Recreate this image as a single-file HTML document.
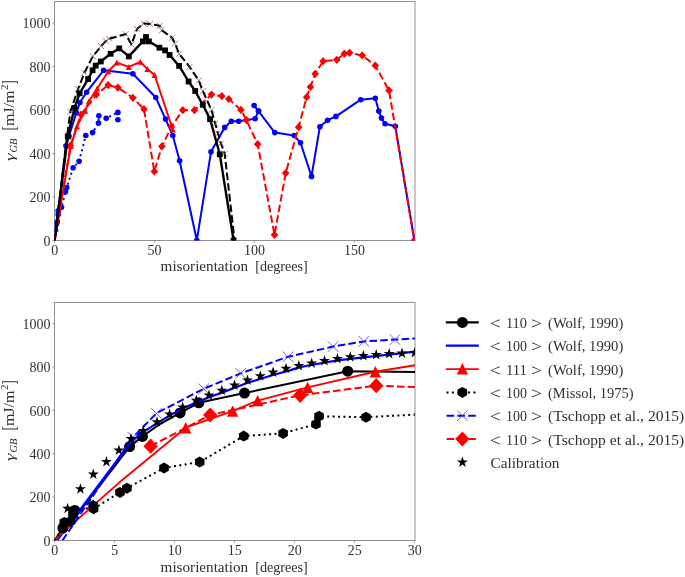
<!DOCTYPE html>
<html><head><meta charset="utf-8"><title>Grain boundary energy vs misorientation</title>
<style>
html,body{margin:0;padding:0;background:#fff;}
body{width:685px;height:577px;overflow:hidden;font-family:"Liberation Serif",serif;}
svg{display:block;}
svg text{font-family:"Liberation Serif",serif;}
svg{will-change:transform;}
</style></head><body>
<svg width="685" height="577" viewBox="0 0 685 577" font-family="Liberation Serif, serif" fill="#303030"><defs><clipPath id="ct"><rect x="54.5" y="1.5" width="360.5" height="239.0"/></clipPath><clipPath id="cb"><rect x="54.5" y="302.5" width="360.5" height="238.0"/></clipPath></defs><rect width="685" height="577" fill="#fff"/><rect x="54.5" y="1.5" width="360.5" height="239.0" fill="none" stroke="#909090" stroke-width="1"/><line x1="54.5" y1="240.5" x2="54.5" y2="242.7" stroke="#555" stroke-width="0.6"/><text x="51.20" y="255.0" font-size="14.2" textLength="7.00" lengthAdjust="spacingAndGlyphs">0</text><line x1="154.4" y1="240.5" x2="154.4" y2="242.7" stroke="#555" stroke-width="0.6"/><text x="147.60" y="255.0" font-size="14.2" textLength="14.00" lengthAdjust="spacingAndGlyphs">50</text><line x1="254.3" y1="240.5" x2="254.3" y2="242.7" stroke="#555" stroke-width="0.6"/><text x="244.00" y="255.0" font-size="14.2" textLength="21.00" lengthAdjust="spacingAndGlyphs">100</text><line x1="354.2" y1="240.5" x2="354.2" y2="242.7" stroke="#555" stroke-width="0.6"/><text x="343.90" y="255.0" font-size="14.2" textLength="21.00" lengthAdjust="spacingAndGlyphs">150</text><line x1="52.3" y1="240.50" x2="54.5" y2="240.50" stroke="#555" stroke-width="0.6"/><text x="43.40" y="245.70" font-size="14.2" textLength="7.00" lengthAdjust="spacingAndGlyphs">0</text><line x1="52.3" y1="197.00" x2="54.5" y2="197.00" stroke="#555" stroke-width="0.6"/><text x="29.40" y="202.20" font-size="14.2" textLength="21.00" lengthAdjust="spacingAndGlyphs">200</text><line x1="52.3" y1="153.50" x2="54.5" y2="153.50" stroke="#555" stroke-width="0.6"/><text x="29.40" y="158.70" font-size="14.2" textLength="21.00" lengthAdjust="spacingAndGlyphs">400</text><line x1="52.3" y1="110.00" x2="54.5" y2="110.00" stroke="#555" stroke-width="0.6"/><text x="29.40" y="115.20" font-size="14.2" textLength="21.00" lengthAdjust="spacingAndGlyphs">600</text><line x1="52.3" y1="66.50" x2="54.5" y2="66.50" stroke="#555" stroke-width="0.6"/><text x="29.40" y="71.70" font-size="14.2" textLength="21.00" lengthAdjust="spacingAndGlyphs">800</text><line x1="52.3" y1="23.00" x2="54.5" y2="23.00" stroke="#555" stroke-width="0.6"/><text x="22.40" y="28.20" font-size="14.2" textLength="28.00" lengthAdjust="spacingAndGlyphs">1000</text><g transform="translate(14.2,161.0) rotate(-90)" font-size="14.4"><text x="0" y="0" font-style="italic" font-size="13.4" textLength="7.6" lengthAdjust="spacingAndGlyphs">γ</text><text x="8.4" y="2.6" font-style="italic" font-size="10.2" textLength="14.0" lengthAdjust="spacingAndGlyphs">GB</text><text x="30.4" y="0.9" font-size="19" textLength="4.6" lengthAdjust="spacingAndGlyphs">[</text><text x="34.9" y="0" textLength="35.6" lengthAdjust="spacingAndGlyphs">mJ/m</text><text x="70.9" y="-5.8" font-size="10.2" textLength="5.4" lengthAdjust="spacingAndGlyphs">2</text><text x="76.2" y="0.9" font-size="19" textLength="4.6" lengthAdjust="spacingAndGlyphs">]</text></g><text x="160.6" y="271.4" font-size="14.4" textLength="87.6" lengthAdjust="spacingAndGlyphs">misorientation</text><text x="255.2" y="271.4" font-size="14.4" textLength="52.6" lengthAdjust="spacingAndGlyphs">[degrees]</text><g clip-path="url(#ct)"><polyline points="54.6,240.6 55.6,230.0 56.6,224.0 57.3,221.8 58.2,214.5 58.2,210.9 61.5,207.3 65.5,191.8 66.7,187.6 73.1,167.8 79.1,161.3 85.8,135.5 92.6,132.6 98.5,123.1 98.9,115.8 106.2,118.2 117.9,112.4" fill="none" stroke="#0000ff" stroke-width="2.0" stroke-linejoin="round" stroke-dasharray="2 3.3"/><circle cx="55.6" cy="230.0" r="2.8" fill="#0000ff"/><circle cx="56.6" cy="224.0" r="2.8" fill="#0000ff"/><circle cx="57.3" cy="221.8" r="2.8" fill="#0000ff"/><circle cx="58.2" cy="214.5" r="2.8" fill="#0000ff"/><circle cx="58.2" cy="210.9" r="2.8" fill="#0000ff"/><circle cx="61.5" cy="207.3" r="2.8" fill="#0000ff"/><circle cx="65.5" cy="191.8" r="2.8" fill="#0000ff"/><circle cx="66.7" cy="187.6" r="2.8" fill="#0000ff"/><circle cx="73.1" cy="167.8" r="2.8" fill="#0000ff"/><circle cx="79.1" cy="161.3" r="2.8" fill="#0000ff"/><circle cx="85.8" cy="135.5" r="2.8" fill="#0000ff"/><circle cx="92.6" cy="132.6" r="2.8" fill="#0000ff"/><circle cx="98.5" cy="123.1" r="2.8" fill="#0000ff"/><circle cx="98.9" cy="115.8" r="2.8" fill="#0000ff"/><circle cx="106.2" cy="118.2" r="2.8" fill="#0000ff"/><circle cx="117.9" cy="112.4" r="2.8" fill="#0000ff"/><circle cx="117.9" cy="119.7" r="2.8" fill="#0000ff"/><polyline points="54.6,240.6 66.0,145.7 69.0,136.2 76.3,112.8 79.9,102.5 86.6,92.2 103.6,70.3 132.9,73.8 155.8,97.5 165.5,119.1 172.8,135.5 179.6,160.8 196.8,240.3 211.0,151.8 224.7,127.4 231.3,121.3 238.7,121.3 255.1,118.7 258.5,111.1 254.1,105.5 258.5,111.1 274.8,132.6 294.2,135.5 300.5,142.8 311.5,176.4 319.9,126.7 327.6,120.2 335.9,116.4 360.8,99.7 375.3,98.3 378.8,111.1 381.5,118.1 385.0,123.7 395.3,126.2 414.4,240.6" fill="none" stroke="#0000ff" stroke-width="2.0" stroke-linejoin="round"/><circle cx="66.0" cy="145.7" r="2.8" fill="#0000ff"/><circle cx="69.0" cy="136.2" r="2.8" fill="#0000ff"/><circle cx="76.3" cy="112.8" r="2.8" fill="#0000ff"/><circle cx="79.9" cy="102.5" r="2.8" fill="#0000ff"/><circle cx="86.6" cy="92.2" r="2.8" fill="#0000ff"/><circle cx="103.6" cy="70.3" r="2.8" fill="#0000ff"/><circle cx="132.9" cy="73.8" r="2.8" fill="#0000ff"/><circle cx="155.8" cy="97.5" r="2.8" fill="#0000ff"/><circle cx="165.5" cy="119.1" r="2.8" fill="#0000ff"/><circle cx="172.8" cy="135.5" r="2.8" fill="#0000ff"/><circle cx="179.6" cy="160.8" r="2.8" fill="#0000ff"/><circle cx="196.8" cy="240.3" r="2.8" fill="#0000ff"/><circle cx="211.0" cy="151.8" r="2.8" fill="#0000ff"/><circle cx="224.7" cy="127.4" r="2.8" fill="#0000ff"/><circle cx="231.3" cy="121.3" r="2.8" fill="#0000ff"/><circle cx="238.7" cy="121.3" r="2.8" fill="#0000ff"/><circle cx="255.1" cy="118.7" r="2.8" fill="#0000ff"/><circle cx="258.5" cy="111.1" r="2.8" fill="#0000ff"/><circle cx="254.1" cy="105.5" r="2.8" fill="#0000ff"/><circle cx="258.5" cy="111.1" r="2.8" fill="#0000ff"/><circle cx="274.8" cy="132.6" r="2.8" fill="#0000ff"/><circle cx="294.2" cy="135.5" r="2.8" fill="#0000ff"/><circle cx="300.5" cy="142.8" r="2.8" fill="#0000ff"/><circle cx="311.5" cy="176.4" r="2.8" fill="#0000ff"/><circle cx="319.9" cy="126.7" r="2.8" fill="#0000ff"/><circle cx="327.6" cy="120.2" r="2.8" fill="#0000ff"/><circle cx="335.9" cy="116.4" r="2.8" fill="#0000ff"/><circle cx="360.8" cy="99.7" r="2.8" fill="#0000ff"/><circle cx="375.3" cy="98.3" r="2.8" fill="#0000ff"/><circle cx="378.8" cy="111.1" r="2.8" fill="#0000ff"/><circle cx="381.5" cy="118.1" r="2.8" fill="#0000ff"/><circle cx="385.0" cy="123.7" r="2.8" fill="#0000ff"/><circle cx="395.3" cy="126.2" r="2.8" fill="#0000ff"/><circle cx="414.4" cy="240.6" r="2.8" fill="#0000ff"/><polyline points="54.6,240.6 70.8,146.1 76.9,126.4 85.2,110.8 88.9,101.2 97.2,88.5 108.4,71.3 116.9,62.6 128.8,66.9 140.3,61.8 147.4,69.1 154.6,75.0 172.8,129.5" fill="none" stroke="#ff0000" stroke-width="2.0" stroke-linejoin="round"/><path d="M70.8,143.1L73.8,149.1L67.8,149.1Z" fill="#ff0000"/><path d="M76.9,123.4L79.9,129.4L73.9,129.4Z" fill="#ff0000"/><path d="M85.2,107.8L88.2,113.8L82.2,113.8Z" fill="#ff0000"/><path d="M88.9,98.2L91.9,104.2L85.9,104.2Z" fill="#ff0000"/><path d="M97.2,85.5L100.2,91.5L94.2,91.5Z" fill="#ff0000"/><path d="M108.4,68.3L111.4,74.3L105.4,74.3Z" fill="#ff0000"/><path d="M116.9,59.6L119.9,65.6L113.9,65.6Z" fill="#ff0000"/><path d="M128.8,63.9L131.8,69.9L125.8,69.9Z" fill="#ff0000"/><path d="M140.3,58.8L143.3,64.8L137.3,64.8Z" fill="#ff0000"/><path d="M147.4,66.1L150.4,72.1L144.4,72.1Z" fill="#ff0000"/><path d="M154.6,72.0L157.6,78.0L151.6,78.0Z" fill="#ff0000"/><path d="M172.8,126.5L175.8,132.5L169.8,132.5Z" fill="#ff0000"/><polyline points="54.6,240.6 70.4,145.7 80.9,114.7 96.4,94.6 108.1,85.1 117.9,87.6 132.9,97.8 144.0,109.2 154.3,171.4 161.9,146.4 171.4,126.7 182.8,110.2 194.5,110.2 211.5,94.6 221.8,96.1 228.8,99.0 240.9,109.9 246.4,120.1 257.7,144.2 274.5,234.8 285.7,173.1 298.6,127.2 306.6,97.2 310.4,87.0 315.2,73.8 323.1,61.2 336.8,59.8 344.3,53.7 349.6,52.8 362.2,55.4 375.3,65.6 389.0,90.4 414.4,240.6" fill="none" stroke="#ff0000" stroke-width="2.0" stroke-linejoin="round" stroke-dasharray="7.5 3.2"/><path d="M70.4,141.6L74.2,145.7L70.4,149.8L66.6,145.7Z" fill="#ff0000"/><path d="M80.9,110.6L84.7,114.7L80.9,118.8L77.1,114.7Z" fill="#ff0000"/><path d="M96.4,90.5L100.2,94.6L96.4,98.7L92.6,94.6Z" fill="#ff0000"/><path d="M108.1,81.0L111.9,85.1L108.1,89.2L104.3,85.1Z" fill="#ff0000"/><path d="M117.9,83.5L121.7,87.6L117.9,91.7L114.1,87.6Z" fill="#ff0000"/><path d="M132.9,93.7L136.7,97.8L132.9,101.9L129.1,97.8Z" fill="#ff0000"/><path d="M144.0,105.1L147.8,109.2L144.0,113.3L140.2,109.2Z" fill="#ff0000"/><path d="M154.3,167.3L158.1,171.4L154.3,175.5L150.5,171.4Z" fill="#ff0000"/><path d="M161.9,142.3L165.7,146.4L161.9,150.5L158.1,146.4Z" fill="#ff0000"/><path d="M171.4,122.6L175.2,126.7L171.4,130.8L167.6,126.7Z" fill="#ff0000"/><path d="M182.8,106.1L186.6,110.2L182.8,114.3L179.0,110.2Z" fill="#ff0000"/><path d="M194.5,106.1L198.3,110.2L194.5,114.3L190.7,110.2Z" fill="#ff0000"/><path d="M211.5,90.5L215.3,94.6L211.5,98.7L207.7,94.6Z" fill="#ff0000"/><path d="M221.8,92.0L225.6,96.1L221.8,100.2L218.0,96.1Z" fill="#ff0000"/><path d="M228.8,94.9L232.6,99.0L228.8,103.1L225.0,99.0Z" fill="#ff0000"/><path d="M240.9,105.8L244.7,109.9L240.9,114.0L237.1,109.9Z" fill="#ff0000"/><path d="M246.4,116.0L250.2,120.1L246.4,124.2L242.6,120.1Z" fill="#ff0000"/><path d="M257.7,140.1L261.5,144.2L257.7,148.3L253.9,144.2Z" fill="#ff0000"/><path d="M274.5,230.7L278.3,234.8L274.5,238.9L270.7,234.8Z" fill="#ff0000"/><path d="M285.7,169.0L289.5,173.1L285.7,177.2L281.9,173.1Z" fill="#ff0000"/><path d="M298.6,123.1L302.4,127.2L298.6,131.3L294.8,127.2Z" fill="#ff0000"/><path d="M306.6,93.1L310.4,97.2L306.6,101.3L302.8,97.2Z" fill="#ff0000"/><path d="M310.4,82.9L314.2,87.0L310.4,91.1L306.6,87.0Z" fill="#ff0000"/><path d="M315.2,69.7L319.0,73.8L315.2,77.9L311.4,73.8Z" fill="#ff0000"/><path d="M323.1,57.1L326.9,61.2L323.1,65.3L319.3,61.2Z" fill="#ff0000"/><path d="M336.8,55.7L340.6,59.8L336.8,63.9L333.0,59.8Z" fill="#ff0000"/><path d="M344.3,49.6L348.1,53.7L344.3,57.8L340.5,53.7Z" fill="#ff0000"/><path d="M349.6,48.7L353.4,52.8L349.6,56.9L345.8,52.8Z" fill="#ff0000"/><path d="M362.2,51.3L366.0,55.4L362.2,59.5L358.4,55.4Z" fill="#ff0000"/><path d="M375.3,61.5L379.1,65.6L375.3,69.7L371.5,65.6Z" fill="#ff0000"/><path d="M389.0,86.3L392.8,90.4L389.0,94.5L385.2,90.4Z" fill="#ff0000"/><path d="M414.4,236.5L418.2,240.6L414.4,244.7L410.6,240.6Z" fill="#ff0000"/><polyline points="54.6,240.6 67.8,136.4 74.5,107.9 79.6,93.3 88.1,79.1 92.6,70.3 95.7,65.6 100.8,61.5 110.6,53.8 119.2,48.4 128.8,56.4 142.9,41.4 146.0,37.0 148.9,41.4 159.4,47.7 165.1,50.4 169.6,55.0 179.1,65.9 188.6,81.5 195.2,91.0 202.8,104.8 210.1,119.1 219.8,154.3 233.6,240.6" fill="none" stroke="#000" stroke-width="2.4" stroke-linejoin="round"/><rect x="64.9" y="133.5" width="5.8" height="5.8" fill="#000"/><rect x="71.6" y="105.0" width="5.8" height="5.8" fill="#000"/><rect x="76.7" y="90.4" width="5.8" height="5.8" fill="#000"/><rect x="85.2" y="76.2" width="5.8" height="5.8" fill="#000"/><rect x="89.7" y="67.4" width="5.8" height="5.8" fill="#000"/><rect x="92.8" y="62.7" width="5.8" height="5.8" fill="#000"/><rect x="97.9" y="58.6" width="5.8" height="5.8" fill="#000"/><rect x="107.7" y="50.9" width="5.8" height="5.8" fill="#000"/><rect x="116.3" y="45.5" width="5.8" height="5.8" fill="#000"/><rect x="125.9" y="53.5" width="5.8" height="5.8" fill="#000"/><rect x="140.0" y="38.5" width="5.8" height="5.8" fill="#000"/><rect x="143.1" y="34.1" width="5.8" height="5.8" fill="#000"/><rect x="146.0" y="38.5" width="5.8" height="5.8" fill="#000"/><rect x="156.5" y="44.8" width="5.8" height="5.8" fill="#000"/><rect x="162.2" y="47.5" width="5.8" height="5.8" fill="#000"/><rect x="166.7" y="52.1" width="5.8" height="5.8" fill="#000"/><rect x="176.2" y="63.0" width="5.8" height="5.8" fill="#000"/><rect x="185.7" y="78.6" width="5.8" height="5.8" fill="#000"/><rect x="192.3" y="88.1" width="5.8" height="5.8" fill="#000"/><rect x="199.9" y="101.9" width="5.8" height="5.8" fill="#000"/><rect x="207.2" y="116.2" width="5.8" height="5.8" fill="#000"/><rect x="216.9" y="151.4" width="5.8" height="5.8" fill="#000"/><rect x="230.7" y="237.7" width="5.8" height="5.8" fill="#000"/><polyline points="54.6,240.6 67.0,136.4 70.4,111.6 78.1,88.9 84.4,72.8 92.9,56.2 101.1,46.1 105.8,41.1 109.3,38.8 125.6,34.1 131.5,44.5 137.0,29.0 143.6,23.6 150.2,23.9 159.7,25.8 161.9,30.4 172.1,37.7 175.0,43.6 179.1,53.8 189.6,66.9 198.8,80.5 202.8,91.0 211.5,110.0 215.2,123.8 218.0,133.5 221.0,143.5 224.7,153.7 234.6,240.6" fill="none" stroke="#000" stroke-width="2.0" stroke-linejoin="round" stroke-dasharray="7.5 3.2"/><path d="M67.4,108.6L73.4,114.6M67.4,114.6L73.4,108.6" stroke="#6e4040" stroke-width="0.65" fill="none"/><path d="M75.1,85.9L81.1,91.9M75.1,91.9L81.1,85.9" stroke="#6e4040" stroke-width="0.65" fill="none"/><path d="M81.4,69.8L87.4,75.8M81.4,75.8L87.4,69.8" stroke="#6e4040" stroke-width="0.65" fill="none"/><path d="M89.9,53.2L95.9,59.2M89.9,59.2L95.9,53.2" stroke="#6e4040" stroke-width="0.65" fill="none"/><path d="M98.1,43.1L104.1,49.1M98.1,49.1L104.1,43.1" stroke="#6e4040" stroke-width="0.65" fill="none"/><path d="M102.8,38.1L108.8,44.1M102.8,44.1L108.8,38.1" stroke="#6e4040" stroke-width="0.65" fill="none"/><path d="M106.3,35.8L112.3,41.8M106.3,41.8L112.3,35.8" stroke="#6e4040" stroke-width="0.65" fill="none"/><path d="M122.6,31.1L128.6,37.1M122.6,37.1L128.6,31.1" stroke="#6e4040" stroke-width="0.65" fill="none"/><path d="M128.5,41.5L134.5,47.5M128.5,47.5L134.5,41.5" stroke="#6e4040" stroke-width="0.65" fill="none"/><path d="M134.0,26.0L140.0,32.0M134.0,32.0L140.0,26.0" stroke="#6e4040" stroke-width="0.65" fill="none"/><path d="M140.6,20.6L146.6,26.6M140.6,26.6L146.6,20.6" stroke="#6e4040" stroke-width="0.65" fill="none"/><path d="M147.2,20.9L153.2,26.9M147.2,26.9L153.2,20.9" stroke="#6e4040" stroke-width="0.65" fill="none"/><path d="M156.7,22.8L162.7,28.8M156.7,28.8L162.7,22.8" stroke="#6e4040" stroke-width="0.65" fill="none"/><path d="M158.9,27.4L164.9,33.4M158.9,33.4L164.9,27.4" stroke="#6e4040" stroke-width="0.65" fill="none"/><path d="M169.1,34.7L175.1,40.7M169.1,40.7L175.1,34.7" stroke="#6e4040" stroke-width="0.65" fill="none"/><path d="M172.0,40.6L178.0,46.6M172.0,46.6L178.0,40.6" stroke="#6e4040" stroke-width="0.65" fill="none"/><path d="M176.1,50.8L182.1,56.8M176.1,56.8L182.1,50.8" stroke="#6e4040" stroke-width="0.65" fill="none"/><path d="M186.6,63.9L192.6,69.9M186.6,69.9L192.6,63.9" stroke="#6e4040" stroke-width="0.65" fill="none"/><path d="M195.8,77.5L201.8,83.5M195.8,83.5L201.8,77.5" stroke="#6e4040" stroke-width="0.65" fill="none"/><path d="M199.8,88.0L205.8,94.0M199.8,94.0L205.8,88.0" stroke="#6e4040" stroke-width="0.65" fill="none"/><path d="M208.5,107.0L214.5,113.0M208.5,113.0L214.5,107.0" stroke="#6e4040" stroke-width="0.65" fill="none"/><path d="M212.2,120.8L218.2,126.8M212.2,126.8L218.2,120.8" stroke="#6e4040" stroke-width="0.65" fill="none"/><path d="M215.0,130.5L221.0,136.5M215.0,136.5L221.0,130.5" stroke="#6e4040" stroke-width="0.65" fill="none"/><path d="M218.0,140.5L224.0,146.5M218.0,146.5L224.0,140.5" stroke="#6e4040" stroke-width="0.65" fill="none"/><path d="M221.7,150.7L227.7,156.7M221.7,156.7L227.7,150.7" stroke="#6e4040" stroke-width="0.65" fill="none"/></g><rect x="54.5" y="302.5" width="360.5" height="238.0" fill="none" stroke="#909090" stroke-width="1"/><line x1="54.5" y1="540.5" x2="54.5" y2="542.7" stroke="#555" stroke-width="0.6"/><text x="51.20" y="555.0" font-size="14.2" textLength="7.00" lengthAdjust="spacingAndGlyphs">0</text><line x1="114.5" y1="540.5" x2="114.5" y2="542.7" stroke="#555" stroke-width="0.6"/><text x="111.20" y="555.0" font-size="14.2" textLength="7.00" lengthAdjust="spacingAndGlyphs">5</text><line x1="174.5" y1="540.5" x2="174.5" y2="542.7" stroke="#555" stroke-width="0.6"/><text x="167.70" y="555.0" font-size="14.2" textLength="14.00" lengthAdjust="spacingAndGlyphs">10</text><line x1="234.5" y1="540.5" x2="234.5" y2="542.7" stroke="#555" stroke-width="0.6"/><text x="227.70" y="555.0" font-size="14.2" textLength="14.00" lengthAdjust="spacingAndGlyphs">15</text><line x1="294.5" y1="540.5" x2="294.5" y2="542.7" stroke="#555" stroke-width="0.6"/><text x="287.70" y="555.0" font-size="14.2" textLength="14.00" lengthAdjust="spacingAndGlyphs">20</text><line x1="354.5" y1="540.5" x2="354.5" y2="542.7" stroke="#555" stroke-width="0.6"/><text x="347.70" y="555.0" font-size="14.2" textLength="14.00" lengthAdjust="spacingAndGlyphs">25</text><line x1="414.5" y1="540.5" x2="414.5" y2="542.7" stroke="#555" stroke-width="0.6"/><text x="407.70" y="555.0" font-size="14.2" textLength="14.00" lengthAdjust="spacingAndGlyphs">30</text><line x1="52.3" y1="540.50" x2="54.5" y2="540.50" stroke="#555" stroke-width="0.6"/><text x="43.40" y="545.70" font-size="14.2" textLength="7.00" lengthAdjust="spacingAndGlyphs">0</text><line x1="52.3" y1="497.10" x2="54.5" y2="497.10" stroke="#555" stroke-width="0.6"/><text x="29.40" y="502.30" font-size="14.2" textLength="21.00" lengthAdjust="spacingAndGlyphs">200</text><line x1="52.3" y1="453.70" x2="54.5" y2="453.70" stroke="#555" stroke-width="0.6"/><text x="29.40" y="458.90" font-size="14.2" textLength="21.00" lengthAdjust="spacingAndGlyphs">400</text><line x1="52.3" y1="410.30" x2="54.5" y2="410.30" stroke="#555" stroke-width="0.6"/><text x="29.40" y="415.50" font-size="14.2" textLength="21.00" lengthAdjust="spacingAndGlyphs">600</text><line x1="52.3" y1="366.90" x2="54.5" y2="366.90" stroke="#555" stroke-width="0.6"/><text x="29.40" y="372.10" font-size="14.2" textLength="21.00" lengthAdjust="spacingAndGlyphs">800</text><line x1="52.3" y1="323.50" x2="54.5" y2="323.50" stroke="#555" stroke-width="0.6"/><text x="22.40" y="328.70" font-size="14.2" textLength="28.00" lengthAdjust="spacingAndGlyphs">1000</text><g transform="translate(14.2,461.0) rotate(-90)" font-size="14.4"><text x="0" y="0" font-style="italic" font-size="13.4" textLength="7.6" lengthAdjust="spacingAndGlyphs">γ</text><text x="8.4" y="2.6" font-style="italic" font-size="10.2" textLength="14.0" lengthAdjust="spacingAndGlyphs">GB</text><text x="30.4" y="0.9" font-size="19" textLength="4.6" lengthAdjust="spacingAndGlyphs">[</text><text x="34.9" y="0" textLength="35.6" lengthAdjust="spacingAndGlyphs">mJ/m</text><text x="70.9" y="-5.8" font-size="10.2" textLength="5.4" lengthAdjust="spacingAndGlyphs">2</text><text x="76.2" y="0.9" font-size="19" textLength="4.6" lengthAdjust="spacingAndGlyphs">]</text></g><text x="160.6" y="571.6" font-size="14.4" textLength="87.6" lengthAdjust="spacingAndGlyphs">misorientation</text><text x="255.2" y="571.6" font-size="14.4" textLength="52.6" lengthAdjust="spacingAndGlyphs">[degrees]</text><g clip-path="url(#cb)"><polyline points="54.5,540.5 62.9,528.0 71.0,522.6 95.0,491.6 113.0,468.3 129.6,446.6 142.4,436.4 160.0,424.0 180.1,412.9 198.8,402.8 244.5,393.1 347.7,371.2 415.0,372.0" fill="none" stroke="#000" stroke-width="2.0" stroke-linejoin="round"/><circle cx="62.9" cy="528.0" r="5.5" fill="#000"/><circle cx="74.8" cy="510.5" r="5.5" fill="#000"/><circle cx="129.6" cy="446.6" r="5.5" fill="#000"/><circle cx="142.4" cy="436.4" r="5.5" fill="#000"/><circle cx="180.1" cy="412.9" r="5.5" fill="#000"/><circle cx="198.8" cy="402.8" r="5.5" fill="#000"/><circle cx="244.5" cy="393.1" r="5.5" fill="#000"/><circle cx="347.7" cy="371.2" r="5.5" fill="#000"/><polyline points="57.0,540.5 130.2,443.0 137.0,436.7 145.0,430.9 157.0,423.1 170.0,415.4 183.0,408.5 196.0,402.5 209.0,397.3 222.0,392.6 247.0,383.0 273.0,375.0 290.0,370.4 299.0,367.4 311.0,365.0 337.5,360.3 350.0,358.8 389.0,354.6 415.0,351.6" fill="none" stroke="#0000ff" stroke-width="2.2" stroke-linejoin="round"/><polyline points="54.4,539.9 122.3,479.9 185.7,427.7 232.6,411.1 257.7,400.6 307.6,387.4 375.3,371.7 414.9,365.2" fill="none" stroke="#ff0000" stroke-width="1.9" stroke-linejoin="round"/><path d="M185.7,422.0L191.4,433.4L180.0,433.4Z" fill="#ff0000"/><path d="M232.6,405.4L238.3,416.8L226.9,416.8Z" fill="#ff0000"/><path d="M257.7,394.9L263.4,406.3L252.0,406.3Z" fill="#ff0000"/><path d="M307.6,381.7L313.3,393.1L301.9,393.1Z" fill="#ff0000"/><path d="M375.3,366.0L381.0,377.4L369.6,377.4Z" fill="#ff0000"/><polyline points="54.5,540.5 62.9,528.0 64.3,522.4 70.5,521.4 73.0,514.5 93.1,505.5 93.6,508.7 120.0,492.4 126.9,488.2 164.0,468.0 199.7,462.0 243.7,436.1 283.1,433.4 316.0,424.1 319.0,416.3 366.0,417.2 414.9,414.6" fill="none" stroke="#000" stroke-width="2.0" stroke-linejoin="round" stroke-dasharray="2 3.4"/><polygon points="62.9,522.5 67.7,525.2 67.7,530.8 62.9,533.5 58.1,530.8 58.1,525.2" fill="#000"/><polygon points="64.3,516.9 69.1,519.6 69.1,525.1 64.3,527.9 59.5,525.1 59.5,519.6" fill="#000"/><polygon points="70.5,515.9 75.3,518.6 75.3,524.1 70.5,526.9 65.7,524.1 65.7,518.6" fill="#000"/><polygon points="73.0,509.0 77.8,511.8 77.8,517.2 73.0,520.0 68.2,517.2 68.2,511.8" fill="#000"/><polygon points="93.1,500.0 97.9,502.8 97.9,508.2 93.1,511.0 88.3,508.2 88.3,502.8" fill="#000"/><polygon points="93.6,503.2 98.4,505.9 98.4,511.4 93.6,514.2 88.8,511.4 88.8,505.9" fill="#000"/><polygon points="120.0,486.9 124.8,489.6 124.8,495.1 120.0,497.9 115.2,495.1 115.2,489.6" fill="#000"/><polygon points="126.9,482.7 131.7,485.4 131.7,490.9 126.9,493.7 122.1,490.9 122.1,485.4" fill="#000"/><polygon points="164.0,462.5 168.8,465.2 168.8,470.8 164.0,473.5 159.2,470.8 159.2,465.2" fill="#000"/><polygon points="199.7,456.5 204.5,459.2 204.5,464.8 199.7,467.5 194.9,464.8 194.9,459.2" fill="#000"/><polygon points="243.7,430.6 248.5,433.4 248.5,438.9 243.7,441.6 238.9,438.9 238.9,433.4" fill="#000"/><polygon points="283.1,427.9 287.9,430.6 287.9,436.1 283.1,438.9 278.3,436.1 278.3,430.6" fill="#000"/><polygon points="316.0,418.6 320.8,421.4 320.8,426.9 316.0,429.6 311.2,426.9 311.2,421.4" fill="#000"/><polygon points="319.0,410.8 323.8,413.6 323.8,419.1 319.0,421.8 314.2,419.1 314.2,413.6" fill="#000"/><polygon points="366.0,411.7 370.8,414.4 370.8,419.9 366.0,422.7 361.2,419.9 361.2,414.4" fill="#000"/><polyline points="62.4,540.5 132.8,437.4 156.4,413.3 203.7,388.8 240.7,373.4 288.0,356.8 333.1,346.6 363.8,341.4 395.0,339.6 414.9,338.4" fill="none" stroke="#0000ff" stroke-width="2.0" stroke-linejoin="round" stroke-dasharray="7.5 3.2"/><path d="M127.5,432.1L138.1,442.7M127.5,442.7L138.1,432.1" stroke="#3c3cff" stroke-width="0.8" fill="none"/><path d="M151.1,408.0L161.7,418.6M151.1,418.6L161.7,408.0" stroke="#3c3cff" stroke-width="0.8" fill="none"/><path d="M198.4,383.5L209.0,394.1M198.4,394.1L209.0,383.5" stroke="#3c3cff" stroke-width="0.8" fill="none"/><path d="M235.4,368.1L246.0,378.7M235.4,378.7L246.0,368.1" stroke="#3c3cff" stroke-width="0.8" fill="none"/><path d="M282.7,351.5L293.3,362.1M282.7,362.1L293.3,351.5" stroke="#3c3cff" stroke-width="0.8" fill="none"/><path d="M327.8,341.3L338.4,351.9M327.8,351.9L338.4,341.3" stroke="#3c3cff" stroke-width="0.8" fill="none"/><path d="M358.5,336.1L369.1,346.7M358.5,346.7L369.1,336.1" stroke="#3c3cff" stroke-width="0.8" fill="none"/><path d="M389.7,334.3L400.3,344.9M389.7,344.9L400.3,334.3" stroke="#3c3cff" stroke-width="0.8" fill="none"/><polyline points="150.6,446.2 210.2,415.0 300.2,395.3 376.2,385.7 414.9,387.1" fill="none" stroke="#ff0000" stroke-width="2.0" stroke-linejoin="round" stroke-dasharray="7.5 3.2"/><path d="M150.6,438.6L157.8,446.2L150.6,453.8L143.4,446.2Z" fill="#ff0000"/><path d="M210.2,407.4L217.4,415.0L210.2,422.6L203.0,415.0Z" fill="#ff0000"/><path d="M300.2,387.7L307.4,395.3L300.2,402.9L293.0,395.3Z" fill="#ff0000"/><path d="M376.2,378.1L383.4,385.7L376.2,393.3L369.0,385.7Z" fill="#ff0000"/><polygon points="67.6,502.7 68.9,506.7 73.1,506.7 69.7,509.2 71.0,513.2 67.6,510.7 64.2,513.2 65.5,509.2 62.1,506.7 66.3,506.7" fill="#000"/><polygon points="80.4,483.3 81.7,487.3 85.9,487.3 82.5,489.8 83.8,493.8 80.4,491.3 77.0,493.8 78.3,489.8 74.9,487.3 79.1,487.3" fill="#000"/><polygon points="93.3,468.4 94.6,472.4 98.8,472.4 95.4,474.9 96.7,478.9 93.3,476.4 89.9,478.9 91.2,474.9 87.8,472.4 92.0,472.4" fill="#000"/><polygon points="106.4,456.0 107.7,460.0 111.9,460.0 108.5,462.5 109.8,466.5 106.4,464.0 103.0,466.5 104.3,462.5 100.9,460.0 105.1,460.0" fill="#000"/><polygon points="118.9,444.4 120.2,448.4 124.4,448.4 121.0,450.9 122.3,454.9 118.9,452.4 115.5,454.9 116.8,450.9 113.4,448.4 117.6,448.4" fill="#000"/><polygon points="131.0,432.9 132.3,436.9 136.5,436.9 133.1,439.4 134.4,443.4 131.0,440.9 127.6,443.4 128.9,439.4 125.5,436.9 129.7,436.9" fill="#000"/><polygon points="143.3,425.0 144.6,429.0 148.8,429.0 145.4,431.5 146.7,435.5 143.3,433.0 139.9,435.5 141.2,431.5 137.8,429.0 142.0,429.0" fill="#000"/><polygon points="157.0,416.2 158.3,420.2 162.5,420.2 159.1,422.7 160.4,426.7 157.0,424.2 153.6,426.7 154.9,422.7 151.5,420.2 155.7,420.2" fill="#000"/><polygon points="169.6,408.4 170.9,412.4 175.1,412.4 171.7,414.9 173.0,418.9 169.6,416.4 166.2,418.9 167.5,414.9 164.1,412.4 168.3,412.4" fill="#000"/><polygon points="182.7,401.4 184.0,405.4 188.2,405.4 184.8,407.9 186.1,411.9 182.7,409.4 179.3,411.9 180.6,407.9 177.2,405.4 181.4,405.4" fill="#000"/><polygon points="196.2,394.8 197.5,398.8 201.7,398.8 198.3,401.3 199.6,405.3 196.2,402.8 192.8,405.3 194.1,401.3 190.7,398.8 194.9,398.8" fill="#000"/><polygon points="209.0,389.6 210.3,393.6 214.5,393.6 211.1,396.1 212.4,400.1 209.0,397.6 205.6,400.1 206.9,396.1 203.5,393.6 207.7,393.6" fill="#000"/><polygon points="221.8,384.7 223.1,388.7 227.3,388.7 223.9,391.2 225.2,395.2 221.8,392.7 218.4,395.2 219.7,391.2 216.3,388.7 220.5,388.7" fill="#000"/><polygon points="234.5,379.5 235.8,383.5 240.0,383.5 236.6,386.0 237.9,390.0 234.5,387.5 231.1,390.0 232.4,386.0 229.0,383.5 233.2,383.5" fill="#000"/><polygon points="247.5,374.6 248.8,378.6 253.0,378.6 249.6,381.1 250.9,385.1 247.5,382.6 244.1,385.1 245.4,381.1 242.0,378.6 246.2,378.6" fill="#000"/><polygon points="260.3,370.3 261.6,374.3 265.8,374.3 262.4,376.8 263.7,380.8 260.3,378.3 256.9,380.8 258.2,376.8 254.8,374.3 259.0,374.3" fill="#000"/><polygon points="273.1,366.4 274.4,370.4 278.6,370.4 275.2,372.9 276.5,376.9 273.1,374.4 269.7,376.9 271.0,372.9 267.6,370.4 271.8,370.4" fill="#000"/><polygon points="286.0,362.7 287.3,366.7 291.5,366.7 288.1,369.2 289.4,373.2 286.0,370.7 282.6,373.2 283.9,369.2 280.5,366.7 284.7,366.7" fill="#000"/><polygon points="298.8,360.1 300.1,364.1 304.3,364.1 300.9,366.6 302.2,370.6 298.8,368.1 295.4,370.6 296.7,366.6 293.3,364.1 297.5,364.1" fill="#000"/><polygon points="311.7,357.5 313.0,361.5 317.2,361.5 313.8,364.0 315.1,368.0 311.7,365.5 308.3,368.0 309.6,364.0 306.2,361.5 310.4,361.5" fill="#000"/><polygon points="324.5,354.9 325.8,358.9 330.0,358.9 326.6,361.4 327.9,365.4 324.5,362.9 321.1,365.4 322.4,361.4 319.0,358.9 323.2,358.9" fill="#000"/><polygon points="337.5,352.9 338.8,356.9 343.0,356.9 339.6,359.4 340.9,363.4 337.5,360.9 334.1,363.4 335.4,359.4 332.0,356.9 336.2,356.9" fill="#000"/><polygon points="350.3,351.3 351.6,355.3 355.8,355.3 352.4,357.8 353.7,361.8 350.3,359.3 346.9,361.8 348.2,357.8 344.8,355.3 349.0,355.3" fill="#000"/><polygon points="363.4,350.1 364.7,354.1 368.9,354.1 365.5,356.6 366.8,360.6 363.4,358.1 360.0,360.6 361.3,356.6 357.9,354.1 362.1,354.1" fill="#000"/><polygon points="376.2,348.9 377.5,352.9 381.7,352.9 378.3,355.4 379.6,359.4 376.2,356.9 372.8,359.4 374.1,355.4 370.7,352.9 374.9,352.9" fill="#000"/><polygon points="389.2,348.0 390.5,352.0 394.7,352.0 391.3,354.5 392.6,358.5 389.2,356.0 385.8,358.5 387.1,354.5 383.7,352.0 387.9,352.0" fill="#000"/><polygon points="402.0,347.5 403.3,351.5 407.5,351.5 404.1,354.0 405.4,358.0 402.0,355.5 398.6,358.0 399.9,354.0 396.5,351.5 400.7,351.5" fill="#000"/><polygon points="414.8,347.1 416.1,351.1 420.3,351.1 416.9,353.6 418.2,357.6 414.8,355.1 411.4,357.6 412.7,353.6 409.3,351.1 413.5,351.1" fill="#000"/></g><polyline points="445.8,322.4 478.8,322.4" fill="none" stroke="#000" stroke-width="2.1" stroke-linejoin="round"/><circle cx="462.4" cy="322.4" r="5.5" fill="#000"/><polyline points="445.8,345.7 478.8,345.7" fill="none" stroke="#0000ff" stroke-width="2.2" stroke-linejoin="round"/><polyline points="445.8,369.1 478.8,369.1" fill="none" stroke="#ff0000" stroke-width="1.9" stroke-linejoin="round"/><path d="M462.4,363.1L468.1,374.5L456.7,374.5Z" fill="#ff0000"/><polyline points="446.5,392.4 478.8,392.4" fill="none" stroke="#000" stroke-width="2.0" stroke-linejoin="round" stroke-dasharray="2 3.4"/><polygon points="462.4,386.9 467.2,389.6 467.2,395.1 462.4,397.9 457.6,395.1 457.6,389.6" fill="#000"/><polyline points="446.6,415.7 476.4,415.7" fill="none" stroke="#0000ff" stroke-width="2.0" stroke-linejoin="round" stroke-dasharray="7.6 3.2"/><path d="M457.1,410.4L467.7,421.0M457.1,421.0L467.7,410.4" stroke="#3c3cff" stroke-width="0.8" fill="none"/><polyline points="446.6,439.0 476.4,439.0" fill="none" stroke="#ff0000" stroke-width="2.0" stroke-linejoin="round" stroke-dasharray="7.6 3.2"/><path d="M462.4,431.4L469.6,439.0L462.4,446.6L455.2,439.0Z" fill="#ff0000"/><polygon points="462.4,456.6 463.7,460.6 467.9,460.6 464.5,463.1 465.8,467.1 462.4,464.6 459.0,467.1 460.3,463.1 456.9,460.6 461.1,460.6" fill="#000"/><text x="489.5" y="328.90" font-size="17.5" textLength="11.2" lengthAdjust="spacingAndGlyphs">&lt;</text><text x="505.9" y="328.00" font-size="14.4" textLength="21.0" lengthAdjust="spacingAndGlyphs">110</text><text x="531.1" y="328.90" font-size="17.5" textLength="11.2" lengthAdjust="spacingAndGlyphs">&gt;</text><text x="548.0" y="328.00" font-size="14.4" textLength="75.3" lengthAdjust="spacingAndGlyphs">(Wolf, 1990)</text><text x="489.5" y="352.23" font-size="17.5" textLength="11.2" lengthAdjust="spacingAndGlyphs">&lt;</text><text x="505.9" y="351.33" font-size="14.4" textLength="21.0" lengthAdjust="spacingAndGlyphs">100</text><text x="531.1" y="352.23" font-size="17.5" textLength="11.2" lengthAdjust="spacingAndGlyphs">&gt;</text><text x="548.0" y="351.33" font-size="14.4" textLength="75.3" lengthAdjust="spacingAndGlyphs">(Wolf, 1990)</text><text x="489.5" y="375.56" font-size="17.5" textLength="11.2" lengthAdjust="spacingAndGlyphs">&lt;</text><text x="505.9" y="374.66" font-size="14.4" textLength="21.0" lengthAdjust="spacingAndGlyphs">111</text><text x="531.1" y="375.56" font-size="17.5" textLength="11.2" lengthAdjust="spacingAndGlyphs">&gt;</text><text x="548.0" y="374.66" font-size="14.4" textLength="75.3" lengthAdjust="spacingAndGlyphs">(Wolf, 1990)</text><text x="489.5" y="398.89" font-size="17.5" textLength="11.2" lengthAdjust="spacingAndGlyphs">&lt;</text><text x="505.9" y="397.99" font-size="14.4" textLength="21.0" lengthAdjust="spacingAndGlyphs">100</text><text x="531.1" y="398.89" font-size="17.5" textLength="11.2" lengthAdjust="spacingAndGlyphs">&gt;</text><text x="548.0" y="397.99" font-size="14.4" textLength="85.7" lengthAdjust="spacingAndGlyphs">(Missol, 1975)</text><text x="489.5" y="422.22" font-size="17.5" textLength="11.2" lengthAdjust="spacingAndGlyphs">&lt;</text><text x="505.9" y="421.32" font-size="14.4" textLength="21.0" lengthAdjust="spacingAndGlyphs">100</text><text x="531.1" y="422.22" font-size="17.5" textLength="11.2" lengthAdjust="spacingAndGlyphs">&gt;</text><text x="548.0" y="421.32" font-size="14.4" textLength="136.3" lengthAdjust="spacingAndGlyphs">(Tschopp et al., 2015)</text><text x="489.5" y="445.55" font-size="17.5" textLength="11.2" lengthAdjust="spacingAndGlyphs">&lt;</text><text x="505.9" y="444.65" font-size="14.4" textLength="21.0" lengthAdjust="spacingAndGlyphs">110</text><text x="531.1" y="445.55" font-size="17.5" textLength="11.2" lengthAdjust="spacingAndGlyphs">&gt;</text><text x="548.0" y="444.65" font-size="14.4" textLength="136.3" lengthAdjust="spacingAndGlyphs">(Tschopp et al., 2015)</text><text x="490.6" y="467.98" font-size="14.4" textLength="68.9" lengthAdjust="spacingAndGlyphs">Calibration</text></svg>
</body></html>
